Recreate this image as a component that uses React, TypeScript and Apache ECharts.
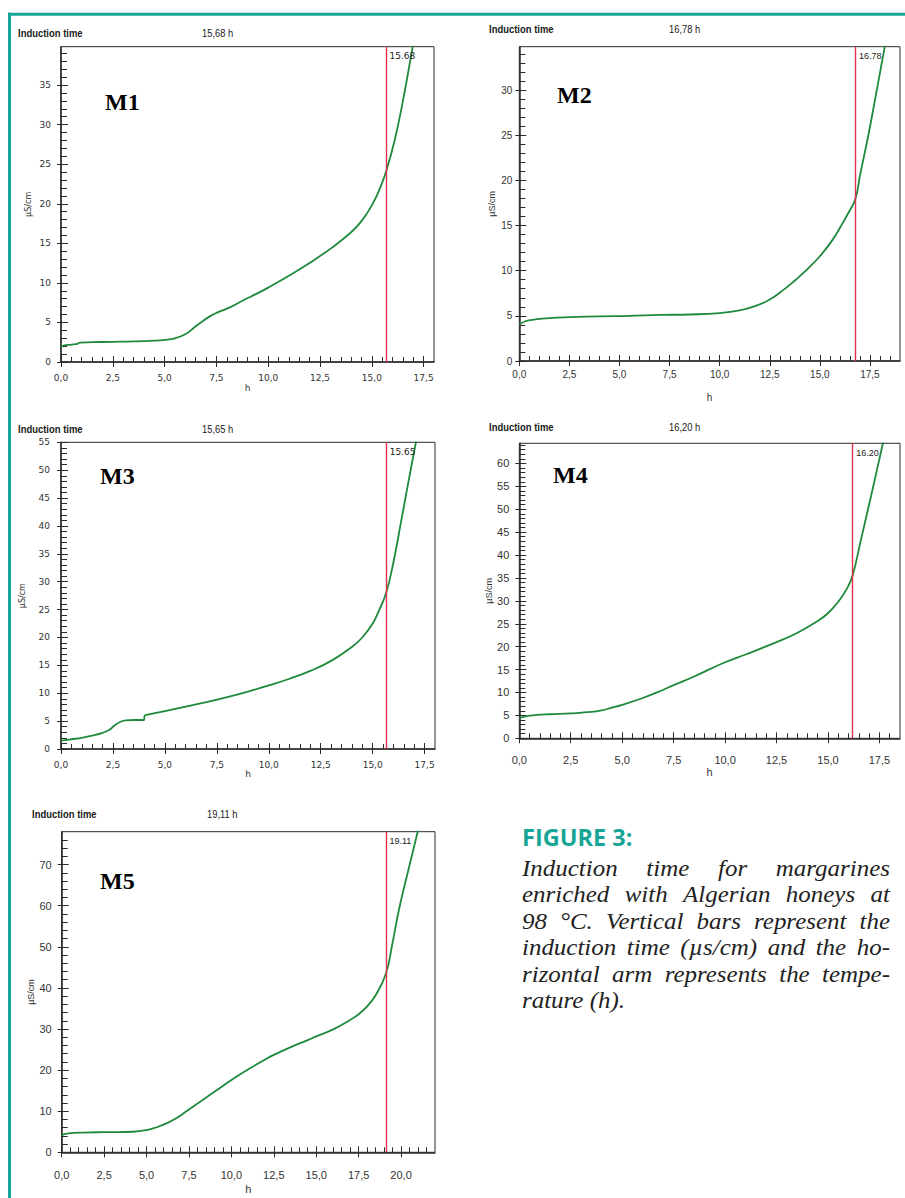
import React, { useEffect, useRef } from "react";
import * as echarts from "echarts";

// ---------------- data ----------------
const PANELS = ["M1", "M2", "M3", "M4", "M5"];
const INDUCTION_TIME = [15.68, 16.78, 15.65, 16.2, 19.11];
const INDUCTION_MARK_LABEL = ["15.68", "16.78", "15.65", "16.20", "19.11"];
const INDUCTION_HEADER = ["15,68 h", "16,78 h", "15,65 h", "16,20 h", "19,11 h"];
const HEADER_TITLE = "Induction time";
const X_NAME = "h";
const Y_NAME = "µS/cm";

const X_TICKS_18 = [0, 2.5, 5, 7.5, 10, 12.5, 15, 17.5];
const X_TICKS_22 = [0, 2.5, 5, 7.5, 10, 12.5, 15, 17.5, 20];
const Y_TICKS_M1 = [0, 5, 10, 15, 20, 25, 30, 35];
const Y_TICKS_M2 = [0, 5, 10, 15, 20, 25, 30];
const Y_TICKS_M3 = [0, 5, 10, 15, 20, 25, 30, 35, 40, 45, 50, 55];
const Y_TICKS_M4 = [0, 5, 10, 15, 20, 25, 30, 35, 40, 45, 50, 55, 60];
const Y_TICKS_M5 = [0, 10, 20, 30, 40, 50, 60, 70];

const M1_CURVE = [
  [0, 1.9], [0.15, 2.1], [0.5, 2.2], [0.8, 2.3], [0.9, 2.45], [1.5, 2.5], [2.5, 2.55],
  [3.5, 2.6], [4.5, 2.7], [5.0, 2.8], [5.5, 3.0], [6.0, 3.5], [6.4, 4.3], [6.8, 5.1],
  [7.2, 5.8], [7.5, 6.2], [8.15, 6.9], [8.8, 7.8], [9.5, 8.7], [10, 9.4], [11, 10.9],
  [12, 12.5], [12.5, 13.4], [13, 14.3], [14, 16.4], [14.5, 17.8], [15, 19.8], [15.4, 22],
  [15.68, 24], [16.1, 28], [16.5, 33], [16.97, 39.8], [17.1, 41.6],
];
const M2_CURVE = [
  [0, 4.0], [0.3, 4.4], [0.8, 4.6], [1.5, 4.75], [2.5, 4.85], [4, 4.95], [5.5, 5.0],
  [7, 5.1], [8.5, 5.15], [10, 5.3], [11, 5.6], [11.8, 6.1], [12.5, 6.8], [13.2, 7.9],
  [13.8, 9.0], [14.3, 10.0], [15, 11.6], [15.6, 13.3], [16.07, 15], [16.4, 16.3],
  [16.78, 18], [17.0, 20.5], [17.42, 25], [17.8, 29.5], [18.24, 34.8], [18.4, 36.7],
];
const M3_CURVE = [
  [0, 1.5], [0.5, 1.75], [1, 2.0], [1.5, 2.4], [2, 2.9], [2.35, 3.5], [2.6, 4.3],
  [2.85, 4.85], [3.1, 5.15], [3.5, 5.2], [4.0, 5.2], [4.02, 5.9], [4.1, 6.1], [5, 6.8],
  [6, 7.6], [7, 8.4], [8, 9.3], [9, 10.3], [10, 11.4], [11, 12.6], [12, 14.0], [13, 15.8],
  [14, 18.3], [14.5, 20], [15, 22.5], [15.3, 24.8], [15.65, 28], [16, 33.5], [16.33, 40],
  [16.7, 47.5], [17.08, 55], [17.2, 57.5],
];
const M4_CURVE = [
  [0, 4.4], [0.3, 4.8], [0.85, 5.1], [1.5, 5.25], [2.5, 5.45], [3.5, 5.75], [4, 6.1],
  [4.5, 6.7], [5, 7.3], [6, 8.8], [7, 10.6], [7.5, 11.6], [8.5, 13.5], [10, 16.6],
  [11, 18.3], [12.5, 21], [13.5, 23], [14.5, 25.6], [15, 27.3], [15.5, 29.8], [15.9, 32.5],
  [16.2, 35.6], [16.6, 43.3], [17.1, 53], [17.67, 64.4], [17.8, 67],
];
const M5_CURVE = [
  [0, 4.2], [0.4, 4.6], [1.27, 4.8], [2.5, 4.9], [4.2, 5.0], [5, 5.4], [5.6, 6.1],
  [6.2, 7.1], [6.8, 8.4], [7.35, 10.0], [8.33, 12.8], [9.2, 15.3], [10, 17.6], [11, 20.2],
  [12, 22.6], [12.5, 23.7], [13.5, 25.6], [14.5, 27.3], [15, 28.2], [16, 29.9], [17, 32.2],
  [17.5, 33.6], [18, 35.5], [18.5, 38.2], [19.11, 43.5], [19.5, 51], [19.9, 59.5],
  [20.45, 69], [20.98, 78], [21.1, 80],
];
const CURVES = [M1_CURVE, M2_CURVE, M3_CURVE, M4_CURVE, M5_CURVE];

const AXIS_RANGE = [
  { xMax: 18, yMax: 39.85, yStep: 5, xTicks: X_TICKS_18, yTicks: Y_TICKS_M1 },
  { xMax: 19, yMax: 34.8, yStep: 5, xTicks: X_TICKS_18, yTicks: Y_TICKS_M2 },
  { xMax: 18, yMax: 55, yStep: 5, xTicks: X_TICKS_18, yTicks: Y_TICKS_M3 },
  { xMax: 18.5, yMax: 64.4, yStep: 5, xTicks: X_TICKS_18, yTicks: Y_TICKS_M4 },
  { xMax: 22, yMax: 78, yStep: 10, xTicks: X_TICKS_22, yTicks: Y_TICKS_M5 },
];

const CAPTION_TITLE = "FIGURE 3:";
const CAPTION_LINES = [
  "Induction time for margarines",
  "enriched with Algerian honeys at",
  "98 °C. Vertical bars represent the",
  "induction time (µs/cm) and the ho-",
  "rizontal arm represents the tempe-",
  "rature (h).",
];

// ---------------- layout / style ----------------
const WIDE = "'DejaVu Sans', Verdana, sans-serif";
const NARROW = "'Liberation Sans Narrow', 'Liberation Sans', Arial, sans-serif";
const LAYOUT = [
  { left: 61, top: 46.7, width: 373, height: 315.3, font: WIDE, size: 9, xMargin: 11, yMargin: 10, xGap: 21, yGap: 29, nameSize: 8, titleX: 18, titleY: 33, headX: 202, tagX: 105, tagY: 102 },
  { left: 519.3, top: 46.7, width: 380.7, height: 314.3, font: NARROW, size: 10, xMargin: 8, yMargin: 7, xGap: 31, yGap: 23, nameSize: 9, titleX: 489, titleY: 29, headX: 669, tagX: 557, tagY: 95 },
  { left: 61, top: 442.3, width: 374, height: 306.7, font: WIDE, size: 9, xMargin: 11, yMargin: 11, xGap: 19, yGap: 35, nameSize: 8, titleX: 18, titleY: 429, headX: 202, tagX: 100, tagY: 476 },
  { left: 519.3, top: 443.3, width: 380.7, height: 295, font: NARROW, size: 11, xMargin: 16, yMargin: 10, xGap: 28, yGap: 25, nameSize: 9, titleX: 489, titleY: 427.5, headX: 669, tagX: 553, tagY: 475 },
  { left: 61.7, top: 831.7, width: 373.3, height: 320.6, font: NARROW, size: 11, xMargin: 17, yMargin: 10, xGap: 31, yGap: 21, nameSize: 9, titleX: 32, titleY: 814.7, headX: 207, tagX: 100, tagY: 881 },
];

const AXIS_COLOR = "#2a2a2a";
const LINE_GREEN = "#1f8a3b";
const RED = "#e0304c";
const TEAL = "#19a596";

const CAP = { left: 522, right: 890, titleY: 836.7, firstY: 867.5, pitch: 26.5, size: 24, stretch: 1.04 };

function measure(text: string, font: string): number {
  const c = document.createElement("canvas").getContext("2d");
  if (!c) return text.length * 10;
  c.font = font;
  return c.measureText(text).width;
}

function buildOption() {
  const grid: any[] = [];
  const xAxis: any[] = [];
  const yAxis: any[] = [];
  const series: any[] = [];
  const graphic: any[] = [];

  PANELS.forEach((name, i) => {
    const L = LAYOUT[i];
    const R = AXIS_RANGE[i];
    grid.push({
      left: L.left, top: L.top, width: L.width, height: L.height,
      show: true, borderColor: AXIS_COLOR, borderWidth: 1, containLabel: false,
    });
    const tickStyle = { color: AXIS_COLOR, width: 1 };
    const xFmt = (v: number) => v.toFixed(1).replace(".", ",");
    xAxis.push({
      gridIndex: i, type: "value", position: "bottom", min: 0, max: R.xMax, interval: 2.5,
      axisLine: { show: true, onZero: false, lineStyle: { color: AXIS_COLOR, width: 1.5 } },
      axisTick: { show: true, inside: true, length: 6, customValues: R.xTicks, lineStyle: tickStyle },
      minorTick: { show: true, splitNumber: 5, length: 5, lineStyle: tickStyle },
      axisLabel: { customValues: R.xTicks, formatter: xFmt, margin: L.xMargin, fontSize: L.size, fontFamily: L.font, color: "#333" },
      splitLine: { show: false }, minorSplitLine: { show: false },
      name: X_NAME, nameLocation: "middle", nameGap: L.xGap,
      nameTextStyle: { fontSize: L.size, fontFamily: L.font, color: "#333" },
    });
    xAxis.push({
      gridIndex: i, type: "value", position: "bottom", min: 0, max: R.xMax, interval: 2.5,
      axisLine: { show: false, onZero: false },
      axisTick: { show: true, inside: false, length: 5, customValues: R.xTicks, lineStyle: tickStyle },
      axisLabel: { show: false }, splitLine: { show: false },
    });
    yAxis.push({
      gridIndex: i, type: "value", position: "left", min: 0, max: R.yMax, interval: R.yStep,
      axisLine: { show: true, onZero: false, lineStyle: { color: AXIS_COLOR, width: 1.5 } },
      axisTick: { show: true, inside: true, length: 7, customValues: R.yTicks, lineStyle: tickStyle },
      minorTick: { show: true, splitNumber: 5, length: 6, lineStyle: tickStyle },
      axisLabel: { customValues: R.yTicks, formatter: (v: number) => String(v), margin: L.yMargin, fontSize: L.size, fontFamily: L.font, color: "#333" },
      splitLine: { show: false }, minorSplitLine: { show: false },
      name: Y_NAME, nameLocation: "middle", nameGap: L.yGap,
      nameTextStyle: { fontSize: L.nameSize, fontFamily: L.font, color: "#333" },
    });
    yAxis.push({
      gridIndex: i, type: "value", position: "left", min: 0, max: R.yMax, interval: R.yStep,
      axisLine: { show: false, onZero: false },
      axisTick: { show: true, inside: false, length: 4, customValues: R.yTicks, lineStyle: tickStyle },
      axisLabel: { show: false }, splitLine: { show: false },
    });
    series.push({
      type: "line", xAxisIndex: 2 * i, yAxisIndex: 2 * i, data: CURVES[i],
      showSymbol: false, smooth: 0.45, clip: true,
      lineStyle: { color: LINE_GREEN, width: 1.8 }, itemStyle: { color: LINE_GREEN },
      markLine: {
        silent: true, symbol: ["none", "none"], label: { show: false },
        itemStyle: { color: RED },
        lineStyle: { color: RED, width: 1.4, type: "solid", opacity: 1 },
        emphasis: { disabled: true },
        data: [{ xAxis: INDUCTION_TIME[i], lineStyle: { color: RED } }],
      },
      markPoint: {
        silent: true, symbol: "circle", symbolSize: 0,
        itemStyle: { color: "rgba(0,0,0,0)" },
        data: [{ coord: [INDUCTION_TIME[i], R.yMax] }],
        label: {
          show: true, formatter: INDUCTION_MARK_LABEL[i], position: [3.5, 5],
          fontSize: 9, fontFamily: L.font, color: "#222",
        },
      },
    });

    const hdrStyle = { fontFamily: "'Liberation Sans', Arial, sans-serif", fontSize: 11, fill: "#1a1a1a", align: "left", verticalAlign: "middle", textAlign: "left", textVerticalAlign: "middle" };
    graphic.push({ type: "text", x: L.titleX, y: L.titleY, scaleX: 0.86, silent: true, style: { ...hdrStyle, text: HEADER_TITLE, fontWeight: "bold" } });
    graphic.push({ type: "text", x: L.headX, y: L.titleY, scaleX: 0.85, silent: true, style: { ...hdrStyle, text: INDUCTION_HEADER[i] } });
    graphic.push({
      type: "text", x: L.tagX, y: L.tagY, silent: true,
      style: { text: name, fontFamily: "'Liberation Serif', 'Times New Roman', serif", fontWeight: "bold", fontSize: 24, fill: "#000", align: "left", verticalAlign: "middle", textAlign: "left", textVerticalAlign: "middle" },
    });
  });

  // frame
  graphic.push({ type: "line", silent: true, shape: { x1: 9.5, y1: 12.7, x2: 9.5, y2: 1198 }, style: { stroke: TEAL, lineWidth: 3 } });
  graphic.push({ type: "line", silent: true, shape: { x1: 8, y1: 14.2, x2: 905, y2: 14.2 }, style: { stroke: TEAL, lineWidth: 3 } });

  // caption
  graphic.push({
    type: "text", x: CAP.left, y: CAP.titleY, silent: true,
    style: { text: CAPTION_TITLE, fontFamily: "'Open Sans', 'Noto Sans', sans-serif", fontWeight: "bold", fontSize: 23.5, fill: TEAL, align: "left", verticalAlign: "middle", textAlign: "left", textVerticalAlign: "middle" },
  });
  const capFamily = "'Liberation Serif', 'Times New Roman', serif";
  const capFont = `italic ${CAP.size}px "Liberation Serif"`;
  const spaceW = measure(" ", capFont) * CAP.stretch;
  CAPTION_LINES.forEach((line, li) => {
    const words = line.split(" ");
    const widths = words.map((w) => measure(w, capFont) * CAP.stretch);
    const total = widths.reduce((a, b) => a + b, 0);
    const justify = li < CAPTION_LINES.length - 1 && words.length > 1;
    const gap = justify ? Math.max(3, (CAP.right - CAP.left - total) / (words.length - 1)) : spaceW;
    let x = CAP.left;
    const y = CAP.firstY + li * CAP.pitch;
    words.forEach((w, wi) => {
      graphic.push({
        type: "text", x, y, scaleX: CAP.stretch, silent: true,
        style: { text: w, fontFamily: capFamily, fontStyle: "italic", fontSize: CAP.size, fill: "#222", align: "left", verticalAlign: "middle", textAlign: "left", textVerticalAlign: "middle" },
      });
      x += widths[wi] + gap;
    });
  });

  return {
    animation: false,
    backgroundColor: "#ffffff",
    grid, xAxis, yAxis, series, graphic,
  };
}

export default function App() {
  const ref = useRef<HTMLDivElement>(null);
  useEffect(() => {
    if (!ref.current) return;
    const chart = echarts.init(ref.current, null, { renderer: "svg" });
    chart.setOption(buildOption() as any);
    return () => chart.dispose();
  }, []);
  return (
    <div
      ref={ref}
      style={{ position: "absolute", left: 0, top: 0, width: 905, height: 1198 }}
    />
  );
}
